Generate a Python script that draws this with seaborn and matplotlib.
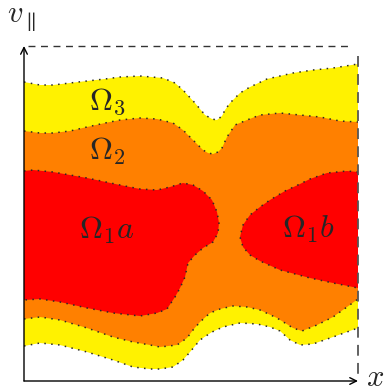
import matplotlib
matplotlib.use("Agg")
import matplotlib.pyplot as plt
import seaborn as sns

# Schematic of the phase-space regions; coordinates
# (x to the right, y downwards as in the image)

# upper edge of the yellow band (Omega_3)
top3_x = [24, 40, 53, 70, 87, 105, 120, 140, 163, 175, 183, 195, 205, 212, 217, 222, 225, 230, 240, 250, 267, 280, 293, 313, 333, 358]
top3_y = [82, 85, 85, 83, 81, 79, 77, 76, 78, 83, 90, 103, 115, 119, 120, 116, 110, 103, 93, 87, 79, 76, 73, 70, 68, 64]

# upper edge of the orange band (Omega_2)
top2_x = [24, 40, 53, 70, 87, 105, 120, 140, 157, 173, 183, 193, 203, 208, 213, 218, 222, 227, 235, 247, 260, 280, 300, 320, 340, 358]
top2_y = [131, 133, 133, 131, 127, 123, 120, 118, 119, 123, 130, 140, 150, 153, 154, 152, 148, 137, 125, 120, 115, 113, 115, 117, 121, 122]

# lower edge of the orange band
bot2_x = [24, 40, 60, 87, 113, 133, 150, 160, 177, 187, 193, 200, 210, 220, 233, 247, 260, 277, 293, 302, 317, 333, 347, 358]
bot2_y = [319, 317, 320, 328, 337, 342, 345, 347, 345, 338, 330, 322, 313, 309, 306, 307, 310, 318, 328, 331, 325, 317, 307, 299]

# lower edge of the yellow band
bot3_x = [24, 40, 60, 87, 113, 133, 150, 160, 173, 183, 190, 200, 212, 223, 240, 257, 270, 280, 290, 300, 313, 333, 358]
bot3_y = [346, 343, 345, 352, 360, 367, 369, 369, 367, 360, 352, 340, 332, 327, 323, 324, 327, 331, 340, 345, 344, 337, 328]

# Omega_1 a (left red island)
om1a_x = [24, 33, 53, 87, 120, 140, 157, 170, 183, 193, 203, 212, 217, 219, 218, 213, 203, 195, 188, 185, 180, 175, 167, 157, 140, 113, 87, 60, 40, 24]
om1a_y = [171, 170, 172, 178, 185, 189, 190, 187, 183, 185, 191, 200, 212, 223, 233, 242, 248, 255, 263, 277, 288, 297, 309, 313, 316, 313, 308, 302, 299, 300]

# Omega_1 b (right red island, open at the right edge)
om1b_x = [358, 347, 327, 310, 300, 285, 270, 260, 250, 243, 240, 243, 250, 260, 280, 310, 333, 358]
om1b_y = [172, 171, 173, 179, 184, 191, 200, 207, 215, 225, 237, 247, 255, 261, 270, 278, 283, 288]

labels = ["$\\Omega_3$", "$\\Omega_2$", "$\\Omega_1a$", "$\\Omega_1b$"]
label_x = [107, 107, 107, 308]
label_y = [101, 151, 230, 229]

YELLOW = "#fff200"
ORANGE = "#ff8000"
RED = "#ff0000"

sns.set_style("white")
plt.rcParams["mathtext.fontset"] = "cm"

W, H = 386, 392
fig = plt.figure(figsize=(W / 100, H / 100), dpi=100)
x0, x1, y0, y1 = 24, 358, 46, 381
ax = fig.add_axes([x0 / W, (H - y1) / H, (x1 - x0) / W, (y1 - y0) / H])
ax.set_xlim(x0, x1)
ax.set_ylim(y1, y0)
ax.axis("off")

# filled bands, back to front
ax.fill(top3_x + bot3_x[::-1], top3_y + bot3_y[::-1], color=YELLOW, lw=0)
ax.fill(top2_x + bot2_x[::-1], top2_y + bot2_y[::-1], color=ORANGE, lw=0)
ax.fill(om1a_x, om1a_y, color=RED, lw=0)
ax.fill(om1b_x, om1b_y, color=RED, lw=0)

# dotted boundaries
dot = dict(color="#2a2a2a", linewidth=1.1, linestyle=(0, (1, 3.5)), sort=False, estimator=None, ax=ax)
for xs, ys in [(top3_x, top3_y), (top2_x, top2_y), (bot2_x, bot2_y),
               (bot3_x, bot3_y), (om1a_x, om1a_y), (om1b_x, om1b_y)]:
    sns.lineplot(x=xs, y=ys, **dot)

# frame: dashed top/right, arrows on the left/bottom
ax.plot([x0 + 4, x1 - 6], [y0, y0], color="#333333", lw=1, ls=(0, (5, 4)), clip_on=False)
ax.plot([x1, x1], [y0 + 10, y1 - 6], color="#555555", lw=1.3, ls=(0, (6, 4)), clip_on=False)
arrow = dict(arrowstyle="->", lw=1, color="black", shrinkA=0, shrinkB=0, mutation_scale=12)
ax.annotate("", xy=(x0, y0), xytext=(x0, y1), arrowprops=arrow, annotation_clip=False)
ax.annotate("", xy=(x1, y1), xytext=(x0, y1), arrowprops=arrow, annotation_clip=False)

ax.text(21, 18, "$v_\\parallel$", fontsize=22, ha="center", va="center", clip_on=False)
ax.text(375, 377, "$x$", fontsize=22, ha="center", va="center", clip_on=False)

for t, tx, ty in zip(labels, label_x, label_y):
    ax.text(tx, ty, t, fontsize=23, ha="center", va="center")

fig.savefig("out.png", dpi=100)
